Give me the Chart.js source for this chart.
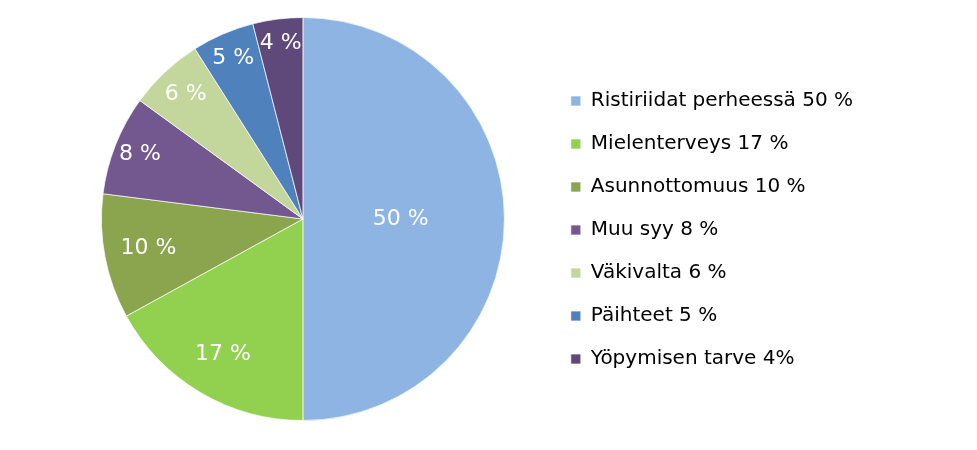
<!DOCTYPE html>
<html>
<head>
<meta charset="utf-8">
<script src="https://cdn.jsdelivr.net/npm/chart.js@4"></script>
<style>
  html, body { margin: 0; padding: 0; background: #fff; }
  #wrap { width: 977px; height: 450px; }
</style>
</head>
<body>
<div id="wrap"><canvas id="pie" width="977" height="450"></canvas></div>
<script>
const categories = [
  'Ristiriidat perheessä 50 %',
  'Mielenterveys 17 %',
  'Asunnottomuus 10 %',
  'Muu syy 8 %',
  'Väkivalta 6 %',
  'Päihteet 5 %',
  'Yöpymisen tarve 4%',
];
const shares = [50, 17, 10, 8, 6, 5, 4];
const sliceColors = ['#8EB4E3', '#92D050', '#8BA54F', '#72588F', '#C3D69B', '#4F81BD', '#5F497A'];

// how far out (share of radius) each slice label sits
const labelRadius = [0.485, 0.78, 0.78, 0.87, 0.85, 0.87, 0.88];

const sliceLabels = {
  id: 'sliceLabels',
  afterDatasetsDraw(chart) {
    const ctx = chart.ctx;
    const meta = chart.getDatasetMeta(0);
    ctx.save();
    ctx.fillStyle = '#fff';
    ctx.font = '22px "DejaVu Sans", sans-serif';
    ctx.textAlign = 'center';
    ctx.textBaseline = 'middle';
    meta.data.forEach((arc, i) => {
      const p = arc.getProps(['x', 'y', 'startAngle', 'endAngle', 'outerRadius'], true);
      const mid = (p.startAngle + p.endAngle) / 2;
      const r = p.outerRadius * labelRadius[i];
      ctx.fillText(shares[i] + ' %', p.x + Math.cos(mid) * r, p.y + Math.sin(mid) * r);
    });
    ctx.restore();
  },
};

const ctx = document.getElementById('pie').getContext('2d');
new Chart(ctx, {
  type: 'pie',
  data: {
    labels: categories,
    datasets: [{
      data: shares,
      backgroundColor: sliceColors,
      borderColor: 'rgba(255,255,255,0.7)',
      borderWidth: 1,
    }],
  },
  options: {
    responsive: false,
    animation: false,
    layout: { padding: { top: 17, bottom: 29, left: 58, right: 114 } },
    plugins: {
      tooltip: { enabled: false },
      legend: {
        position: 'right',
        title: { display: true, text: ' ', font: { size: 10 }, padding: 5 },
        labels: {
          boxWidth: 10,
          boxHeight: 10,
          padding: 23,
          color: '#000',
          font: { family: '"DejaVu Sans", sans-serif', size: 20 },
        },
      },
    },
  },
  plugins: [sliceLabels],
});
</script>
</body>
</html>
